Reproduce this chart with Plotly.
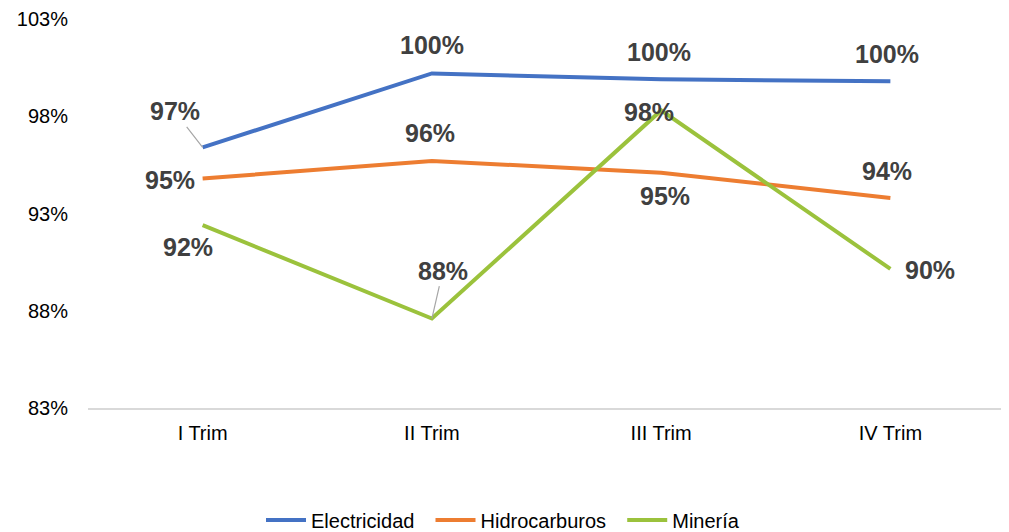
import plotly.graph_objects as go

categories = ["I Trim", "II Trim", "III Trim", "IV Trim"]
electricidad = [96.4, 100.2, 99.9, 99.8]
hidrocarburos = [94.8, 95.7, 95.1, 93.8]
mineria = [92.4, 87.6, 98.3, 90.15]
lbl_elec = ["97%", "100%", "100%", "100%"]
lbl_hidro = ["95%", "96%", "95%", "94%"]
lbl_min = ["92%", "88%", "98%", "90%"]
y_ticks = [83, 88, 93, 98, 103]

colors = {"Electricidad": "#4472C4", "Hidrocarburos": "#ED7D31", "Minería": "#9BC23C"}
series = [("Electricidad", electricidad, lbl_elec),
          ("Hidrocarburos", hidrocarburos, lbl_hidro),
          ("Minería", mineria, lbl_min)]

fig = go.Figure()
for name, vals, _ in series:
    fig.add_trace(go.Scatter(x=categories, y=vals, mode="lines", name=name + "\u00a0\u00a0",
                             line=dict(color=colors[name], width=4)))

# label offsets (xshift, yshift) or arrow (ax, ay)
offsets = {
    "Electricidad": [("arrow", -28, -36), (0, 28), (-2, 27), (-3, 27)],
    "Hidrocarburos": [(-33, -2), (-2, 28), (4, -23), (-3, 27)],
    "Minería": [(-15, -22), ("arrow", 11, -48), (-12, -2), (40, -1)],
}
lab_font = dict(family="Liberation Sans, Arial, sans-serif", size=25, color="#404040")
for name, vals, lbls in series:
    for i, (c, v, t) in enumerate(zip(categories, vals, lbls)):
        o = offsets[name][i]
        if o[0] == "arrow":
            fig.add_annotation(x=c, y=v, xref="x", yref="y", text="<b>%s</b>" % t,
                               showarrow=True, arrowhead=0, arrowwidth=1.2,
                               arrowcolor="#A6A6A6", ax=o[1], ay=o[2], font=lab_font,
                               standoff=0)
        else:
            fig.add_annotation(x=c, y=v, xref="x", yref="y", text="<b>%s</b>" % t,
                               showarrow=False, xshift=o[0], yshift=o[1], font=lab_font)

# page body has an 8px margin: size the figure so it ends at the window edge
fig.update_layout(
    width=1001, height=524,
    margin=dict(l=80, r=4, t=11, b=124, autoexpand=False),
    paper_bgcolor="white", plot_bgcolor="white",
    font=dict(family="Liberation Sans, Arial, sans-serif", size=20, color="#000000"),
    legend=dict(orientation="h", x=0.5, xanchor="center", xref="container",
                y=0.023, yanchor="middle", yref="container",
                font=dict(size=20), itemwidth=40, tracegroupgap=0),
    showlegend=True,
)
fig.update_xaxes(showgrid=False, showline=True, linecolor="#D9D9D9", linewidth=1.5,
                 ticks="", tickfont=dict(size=20), range=[-0.5, 3.5],
                 ticklabelstandoff=6, automargin=False)
fig.update_yaxes(range=[83, 103], tickvals=y_ticks, ticktext=["%d%%" % v for v in y_ticks],
                 showgrid=False, zeroline=False, showline=False, ticks="",
                 tickfont=dict(size=20), ticklabelstandoff=19, automargin=False)

fig.write_html("out.html")
